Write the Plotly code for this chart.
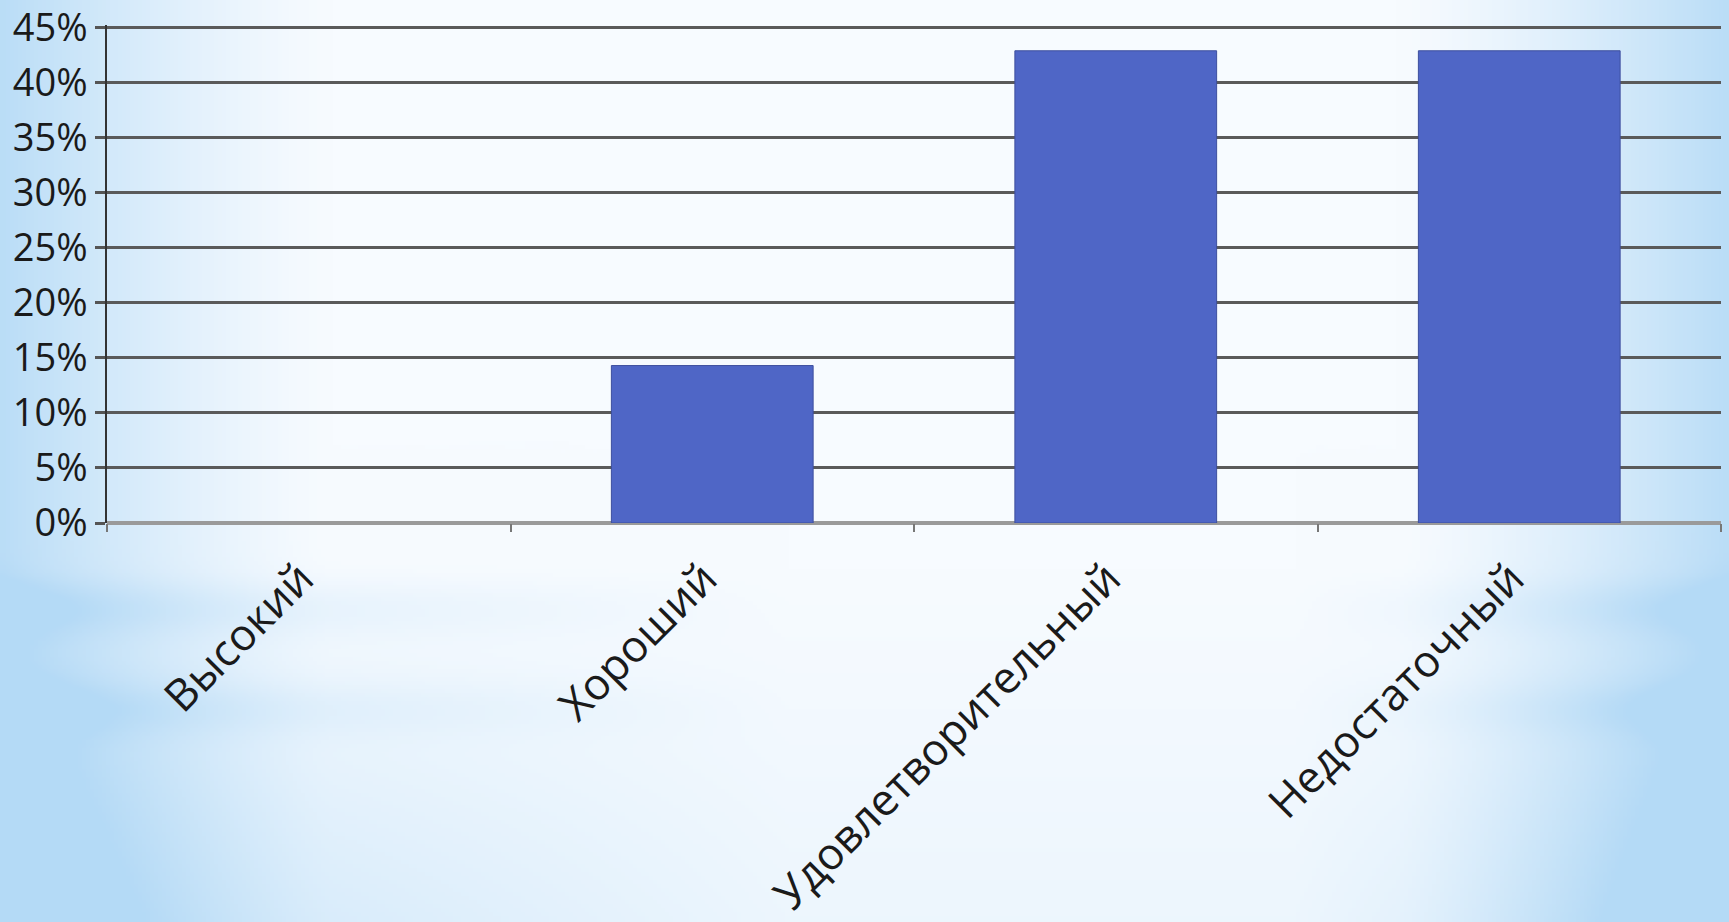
import base64
import struct
import zlib

import numpy as np
import plotly.graph_objects as go

# ---- data ----
categories = ["Высокий", "Хороший", "Удовлетворительный", "Недостаточный"]
values = [0.0, 0.1429, 0.4286, 0.4286]
y_tickvals = [0, 0.05, 0.10, 0.15, 0.20, 0.25, 0.30, 0.35, 0.40, 0.45]
y_ticktext = ["0%", "5%", "10%", "15%", "20%", "25%", "30%", "35%", "40%", "45%"]

W, H = 1729, 922
ML, MR, MT, MB = 107, 8, 25, 399
Y_MAX = 0.452


def make_png(arr):
    h, w, _ = arr.shape
    raw = b"".join(b"\x00" + arr[i].tobytes() for i in range(h))

    def chunk(tag, data):
        c = struct.pack(">I", len(data)) + tag + data
        return c + struct.pack(">I", zlib.crc32(tag + data) & 0xFFFFFFFF)

    png = b"\x89PNG\r\n\x1a\n"
    png += chunk(b"IHDR", struct.pack(">IIBBBBB", w, h, 8, 2, 0, 0, 0))
    png += chunk(b"IDAT", zlib.compress(raw, 9))
    png += chunk(b"IEND", b"")
    return "data:image/png;base64," + base64.b64encode(png).decode()


# background gradient (decorative)
bw, bh = 433, 231
xs = np.linspace(0, 1, bw)[None, :]
ys = np.linspace(0, 1, bh)[:, None]
dx = np.abs(xs - 0.5) * 2
side = np.clip((dx - 0.62) / 0.38, 0, 1) ** 1.3
wy = np.clip((ys - 0.62) / 0.38, 0, 1)
left_bias = np.clip(1.0 - xs * 2.2, 0, 1)
right_bias = np.clip((xs - 0.75) * 4, 0, 1)
band1 = np.exp(-((ys - 0.66) / 0.03) ** 2)
band2 = np.exp(-((ys - 0.77) / 0.03) ** 2)
bands = (band1 * 0.55 + band2 * 0.5) * np.maximum(left_bias, right_bias)
w = side * 0.9 + wy * 0.5 * np.maximum(left_bias, right_bias) + bands * 0.55 + wy * 0.15
w = np.clip(w, 0, 1)
white = np.array([247, 251, 255], float)
blue = np.array([180, 218, 246], float)
img = white[None, None, :] * (1 - w[..., None]) + blue[None, None, :] * w[..., None]
bg_uri = make_png(np.clip(img, 0, 255).astype(np.uint8))

pw = W - ML - MR
ph = H - MT - MB

line_widths = [0 if v == 0 else 1 for v in values]

fig = go.Figure()
fig.add_trace(
    go.Bar(
        x=categories,
        y=values,
        width=0.5,
        marker=dict(color="#4f66c6", line=dict(color="#3d4f9e", width=line_widths)),
        hoverinfo="x+y",
    )
)

font_family = "Open Sans, DejaVu Sans, sans-serif"

fig.update_layout(
    width=W,
    height=H,
    autosize=False,
    margin=dict(l=ML, r=MR, t=MT, b=MB, pad=0, autoexpand=False),
    paper_bgcolor="#f2f8fe",
    plot_bgcolor="rgba(0,0,0,0)",
    showlegend=False,
    bargap=0.5,
    font=dict(family=font_family, color="#1a1a1a"),
    images=[
        dict(
            source=bg_uri,
            xref="paper",
            yref="paper",
            x=-ML / pw,
            y=1 + MT / ph,
            sizex=W / pw,
            sizey=H / ph,
            xanchor="left",
            yanchor="top",
            sizing="stretch",
            layer="below",
        )
    ],
    xaxis=dict(
        type="category",
        automargin=False,
        tickangle=-45,
        tickson="boundaries",
        ticks="outside",
        ticklen=8,
        tickwidth=1.5,
        tickcolor="#777777",
        ticklabelstandoff=20,
        ticklabelshift=-8,
        ticklabeloverflow="allow",
        tickfont=dict(size=44, family=font_family, color="#1a1a1a"),
        showgrid=False,
        showline=False,
        zeroline=False,
        range=[-0.5, 3.5],
        fixedrange=True,
    ),
    yaxis=dict(
        automargin=False,
        range=[0, Y_MAX],
        tickvals=y_tickvals,
        ticktext=y_ticktext,
        ticks="outside",
        ticklen=10,
        tickwidth=2.5,
        tickcolor="#555555",
        ticklabeloverflow="allow",
        tickfont=dict(size=38, family=font_family, color="#1a1a1a"),
        showgrid=True,
        gridcolor="#5a5a5a",
        gridwidth=2.5,
        zeroline=True,
        zerolinecolor="#9a9a9a",
        zerolinewidth=3.5,
        showline=True,
        linecolor="#333333",
        linewidth=1.5,
        fixedrange=True,
    ),
)

fig.write_html(
    "out.html",
    config={"displayModeBar": False},
    post_script="document.body.style.margin='0';document.body.style.overflow='hidden';",
)
